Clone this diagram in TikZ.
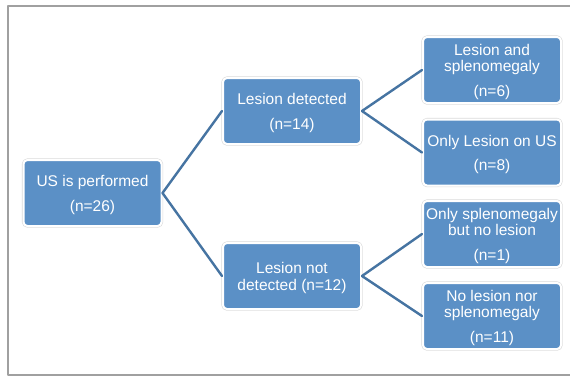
\documentclass[tikz,border=0pt]{standalone}
\usepackage{fontspec}
\setmainfont{Liberation Sans}
\usepackage{tikz}

\definecolor{boxblue}{RGB}{91,144,198}
\definecolor{linkblue}{RGB}{70,116,162}
\definecolor{framegray}{RGB}{160,160,160}

\newcommand{\topgap}{\rule{0pt}{15pt}}

\begin{document}
\begin{tikzpicture}[
						x=1pt, y=-1pt,
						every node/.style={font=\fontsize{15.5}{16.5}\selectfont, text=white},
						box/.style={rectangle, rounded corners=4pt, fill=boxblue,
							preaction={draw=black!14, line width=3.2pt},
							draw=white, line width=2pt,
							minimum width=138pt, minimum height=66pt,
							inner sep=1pt, align=center},
						link/.style={draw=linkblue, line width=2.4pt},
						line cap=round,
						line join=round
						]
						
						% Page and frame
						\useasboundingbox (0,0) rectangle (570,376);
						\clip (0,0) rectangle (570,376);
						\fill[white] (0,0) rectangle (570,376);
						\draw[framegray, line width=2pt, line cap=butt] (8,6) rectangle (590,374.5);
						
						% Boxes
						\node[box] (usroot) at (92.5,193) {\topgap US is performed\\[8pt](n=26)};
						\node[box] (lesdet) at (292,111) {\topgap Lesion detected\\[8pt](n=14)};
						\node[box] (lesnot) at (292,276) {\topgap Lesion not\\detected (n=12)};
						\node[box] (lessplen) at (492,70) {\topgap Lesion and\\splenomegaly\\[8pt](n=6)};
						\node[box] (lesonly) at (492,152.5) {\topgap Only Lesion on US\\[8pt](n=8)};
						\node[box] (splenonly) at (492,234) {\topgap Only splenomegaly\\but no lesion\\[8pt](n=1)};
						\node[box] (noneboth) at (492,316) {\topgap No lesion nor\\splenomegaly\\[8pt](n=11)};
						
						% Connectors
						\draw[link] (usroot.east) -- (lesdet.west);
						\draw[link] (usroot.east) -- (lesnot.west);
						\draw[link] (lesdet.east) -- (lessplen.west);
						\draw[link] (lesdet.east) -- (lesonly.west);
						\draw[link] (lesnot.east) -- (splenonly.west);
						\draw[link] (lesnot.east) -- (noneboth.west);
						
					\end{tikzpicture}
\end{document}
